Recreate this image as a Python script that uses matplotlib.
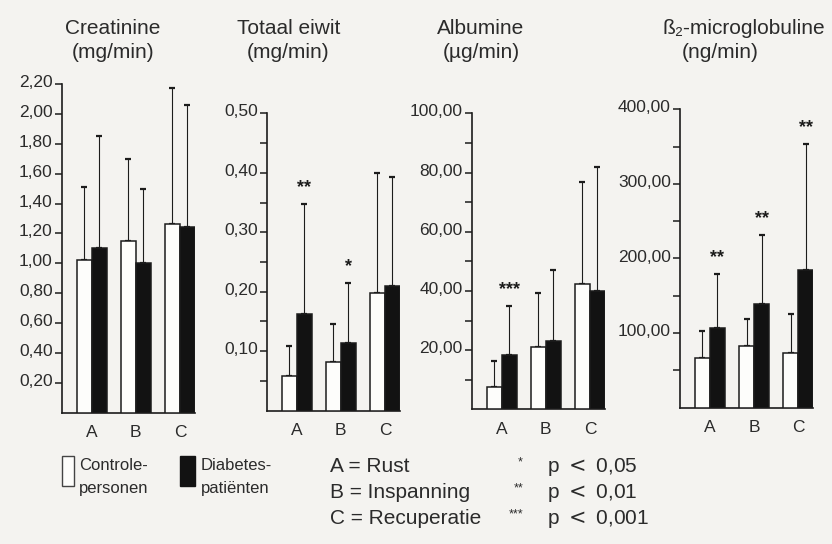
import matplotlib
matplotlib.use("Agg")
import matplotlib.pyplot as plt
import matplotlib.transforms as mtrans
from matplotlib import font_manager
from matplotlib.patches import Rectangle
import numpy as np

# ---------------- data ----------------
groups = ["A", "B", "C"]

creat_ctrl = [1.02, 1.15, 1.26]
creat_ctrl_sd = [0.49, 0.55, 0.91]
creat_diab = [1.10, 1.00, 1.24]
creat_diab_sd = [0.75, 0.50, 0.82]
creat_sig = ["", "", ""]
creat_ticks = [0.20, 0.40, 0.60, 0.80, 1.00, 1.20, 1.40, 1.60, 1.80, 2.00, 2.20]

eiwit_ctrl = [0.058, 0.082, 0.198]
eiwit_ctrl_sd = [0.050, 0.063, 0.202]
eiwit_diab = [0.163, 0.114, 0.209]
eiwit_diab_sd = [0.184, 0.101, 0.184]
eiwit_sig = ["**", "*", ""]
eiwit_ticks = [0.10, 0.20, 0.30, 0.40, 0.50]

alb_ctrl = [7.6, 20.9, 42.2]
alb_ctrl_sd = [8.6, 18.4, 34.5]
alb_diab = [18.2, 23.1, 40.0]
alb_diab_sd = [16.8, 23.8, 41.9]
alb_sig = ["***", "", ""]
alb_ticks = [20, 40, 60, 80, 100]

b2m_ctrl = [66, 83, 73]
b2m_ctrl_sd = [37, 36, 52]
b2m_diab = [107, 139, 185]
b2m_diab_sd = [72, 93, 169]
b2m_sig = ["**", "**", "**"]
b2m_ticks = [100, 200, 300, 400]

titles = [("Creatinine", "(mg/min)"), ("Totaal eiwit", "(mg/min)"),
          ("Albumine", "(µg/min)"), ("ß₂-microglobuline", "(ng/min)")]

legend_labels = ["Controle-\npersonen", "Diabetes-\npatiënten"]
cond_labels = ["A = Rust", "B = Inspanning", "C = Recuperatie"]
sig_stars = ["*", "**", "***"]
sig_labels = ["0,05", "0,01", "0,001"]

# ---------------- style ----------------
names = {f.name for f in font_manager.fontManager.ttflist}
FAM = ["Liberation Sans", "DejaVu Sans"]
NARROW = ["Liberation Sans Narrow", "DejaVu Sans"] if "Liberation Sans Narrow" in names else FAM
plt.rcParams["font.family"] = FAM
plt.rcParams["mathtext.fontset"] = "dejavusans"
TXT = "#2b2b2b"
BG = "#f4f3f0"
INK = "#1c1c1c"

W, H = 832, 544
fig = plt.figure(figsize=(W / 100, H / 100), dpi=100, facecolor=BG)

# panel geometry in pixels: (left, bottom, top)
panel_px = [(61.7, 412.7, 84.0), (266.7, 410.7, 113.3),
            (471.7, 409.3, 113.3), (680.0, 407.7, 109.3)]
XL = (-0.68, 2.34)
PX_PER_UNIT = 44.1

panels = [
    (creat_ctrl, creat_ctrl_sd, creat_diab, creat_diab_sd, creat_sig, creat_ticks, None),
    (eiwit_ctrl, eiwit_ctrl_sd, eiwit_diab, eiwit_diab_sd, eiwit_sig, eiwit_ticks, 0.05),
    (alb_ctrl, alb_ctrl_sd, alb_diab, alb_diab_sd, alb_sig, alb_ticks, 10),
    (b2m_ctrl, b2m_ctrl_sd, b2m_diab, b2m_diab_sd, b2m_sig, b2m_ticks, 50),
]

bw = 0.34
x = np.arange(len(groups))
lift = mtrans.ScaledTranslation(0, 3 / 100, fig.dpi_scale_trans)
for (left, bot, top), (c, csd, d, dsd, sig, ticks, minor) in zip(panel_px, panels):
    width = (XL[1] - XL[0]) * PX_PER_UNIT
    ax = fig.add_axes([left / W, 1 - bot / H, width / W, (bot - top) / H])
    ax.set_facecolor("none")
    ymax = ticks[-1]
    ax.set_xlim(*XL)
    ax.set_ylim(0, ymax)
    ax.bar(x - bw / 2, c, width=bw, color="#fdfdfb", edgecolor=INK, linewidth=1.1, zorder=3)
    ax.bar(x + bw / 2, d, width=bw, color="#121212", edgecolor=INK, linewidth=1.1, zorder=3)
    ax.errorbar(x - bw / 2, c, yerr=[np.zeros(3), csd], fmt="none", ecolor=INK,
                elinewidth=0.8, capsize=2.5, capthick=1.6, zorder=2)
    ax.errorbar(x + bw / 2, d, yerr=[np.zeros(3), dsd], fmt="none", ecolor=INK,
                elinewidth=0.8, capsize=2.5, capthick=1.6, zorder=2)
    for i, s in enumerate(sig):
        if s:
            ax.text(x[i] + bw / 2, d[i] + dsd[i] + 0.055 * ymax, s, ha="center", va="center",
                    fontsize=13, fontweight="bold", color=INK)
    for sp in ["top", "right"]:
        ax.spines[sp].set_visible(False)
    for sp in ["left", "bottom"]:
        ax.spines[sp].set_linewidth(1.2)
        ax.spines[sp].set_color(INK)
    ax.set_yticks(ticks)
    ax.set_yticklabels([f"{t:.2f}".replace(".", ",") for t in ticks])
    if minor:
        ax.set_yticks(np.arange(minor, ymax, minor * 2), minor=True)
    ax.tick_params(axis="y", which="both", direction="out", length=5, width=1.1,
                   color=INK, labelsize=12.5, labelcolor=TXT, pad=1.5)
    for lab in ax.get_yticklabels():
        lab.set_transform(lab.get_transform() + lift)
    ax.set_xticks(x)
    ax.set_xticklabels(groups)
    ax.tick_params(axis="x", length=0, pad=9, labelsize=12.5, labelcolor=TXT)

# overlay for titles and legend
ov = fig.add_axes([0, 0, 1, 1])
ov.set_xlim(0, W)
ov.set_ylim(H, 0)
ov.axis("off")
ov.patch.set_alpha(0)

title_x = [113, 289, 481, 744]
sub_x = [113, 288, 481, 720]
for (t1, t2), tx, sx in zip(titles, title_x, sub_x):
    ov.text(tx, 28, t1, ha="center", va="center", fontsize=15, color=TXT)
    ov.text(sx, 52, t2, ha="center", va="center", fontsize=15, color=TXT)

ov.add_patch(Rectangle((62, 456), 12, 30, facecolor="#fdfdfb", edgecolor="#444", linewidth=1.0))
ov.add_patch(Rectangle((180, 456), 15, 30, facecolor="#121212", edgecolor="#121212", linewidth=1.0))
for lx, lab in zip([79, 201], legend_labels):
    l1, l2 = lab.split("\n")
    ov.text(lx, 466, l1, ha="left", va="center", fontsize=12, color=TXT, family=NARROW)
    ov.text(lx, 489, l2, ha="left", va="center", fontsize=12, color=TXT, family=NARROW)

for i, (cl, st, pl) in enumerate(zip(cond_labels, sig_stars, sig_labels)):
    yy = 467 + 26 * i
    ov.text(330, yy, cl, ha="left", va="center", fontsize=15, color=TXT)
    ov.text(523, yy - 5, st, ha="right", va="center", fontsize=9, color=TXT)
    ov.text(547, yy, "p $<$ " + pl, ha="left", va="center", fontsize=15, color=TXT)

fig.savefig("out.png", dpi=100, facecolor=BG)
